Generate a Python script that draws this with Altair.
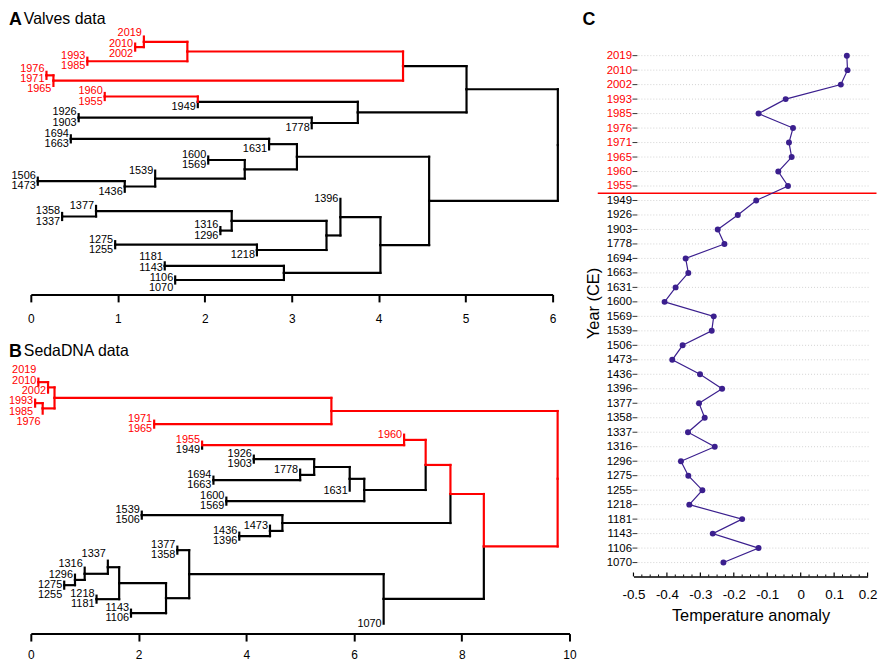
import altair as alt
import pandas as pd

FONT = "Liberation Sans"
RED = "#ff0000"
BLACK = "#000000"
PURPLE = "#3b1f8e"

# ---------------- data ----------------
years = [2019, 2010, 2002, 1993, 1985, 1976, 1971, 1965, 1960, 1955, 1949, 1926,
         1903, 1778, 1694, 1663, 1631, 1600, 1569, 1539, 1506, 1473, 1436, 1396,
         1377, 1358, 1337, 1316, 1296, 1275, 1255, 1218, 1181, 1143, 1106, 1070]
anomaly = [0.138, 0.14, 0.12, -0.045, -0.126, -0.023, -0.035, -0.027, -0.067, -0.038,
           -0.133, -0.188, -0.248, -0.228, -0.344, -0.336, -0.374, -0.407, -0.26,
           -0.266, -0.353, -0.384, -0.301, -0.235, -0.304, -0.287, -0.337, -0.257,
           -0.358, -0.336, -0.294, -0.333, -0.175, -0.263, -0.126, -0.231]
red_from_year = 1955

# Valves dendrogram (merge list: left child, right child, height)
valves_left = [2010, 2019, 1993, "v2", 1976, "v5", "v4", 1960, "v8", 1926, "v10", "v9",
               "v7", 1694, "v14", 1600, 1506, "v17", 1539, "v16", "v15", 1358, 1377,
               1316, "v23", 1275, "v26", "v25", 1396, 1181, 1106, "v30", "v29", "v21", "v13"]
valves_right = [2002, "v1", 1985, "v3", 1971, 1965, "v6", 1955, 1949, 1903, 1778, "v11",
                "v12", 1663, 1631, 1569, 1473, 1436, "v18", "v19", "v20", 1337, "v22",
                1296, "v24", 1255, 1218, "v27", "v28", 1143, 1070, "v31", "v32", "v33", "v34"]
valves_height = [1.20, 1.30, 0.65, 1.80, 0.18, 0.26, 4.28, 0.85, 1.92, 0.55, 3.23, 3.76,
                 5.01, 0.46, 2.74, 2.04, 0.08, 1.08, 1.43, 2.46, 3.06, 0.36, 0.75, 2.18,
                 2.31, 0.97, 2.60, 3.40, 3.56, 1.54, 1.66, 2.91, 4.02, 4.58, 6.06]
valves_red = ["v1", "v2", "v3", "v4", "v5", "v6", "v8"]

# SedaDNA dendrogram
seda_left = [2019, "s1", 1993, "s3", "s2", 1971, "s5", 1955, 1960, 1694, 1778, 1926,
             "s12", "s13", 1600, "s14", "s9", 1539, 1436, 1473, "s18", "s17", 1275, 1296,
             1316, 1337, 1218, "s26", 1143, "s28", 1377, "s31", "s32", "s22", "s7"]
seda_right = [2010, 2002, 1985, 1976, "s4", 1965, "s6", 1949, "s8", 1663, "s10", 1903,
              "s11", 1631, 1569, "s15", "s16", 1506, 1396, "s19", "s20", "s21", 1255, "s23",
              "s24", "s25", 1181, "s27", 1106, "s29", 1358, "s30", 1070, "s33", "s34"]
seda_height = [0.14, 0.32, 0.08, 0.22, 0.44, 2.29, 5.58, 3.18, 6.93, 3.39, 5.00, 4.14,
               5.26, 5.92, 3.63, 6.19, 7.33, 2.06, 3.87, 4.44, 4.67, 7.79, 0.62, 0.82,
               1.00, 1.43, 1.22, 1.64, 1.86, 2.51, 2.72, 2.94, 6.55, 8.41, 9.78]
seda_red = ["s1", "s2", "s3", "s4", "s5", "s6", "s7", "s8", "s9", "s17", "s22", "s34"]

# ---------------- layout (pixels) ----------------
A_W, B_W, C_W = 526, 543, 236
A_YMIN, A_YMAX = -1.0, 36.55
B_YMIN, B_YMAX = -1.5, 36.42
A_UNIT, B_UNIT = 7.114, 7.057
A_H = (A_YMAX - A_YMIN) * A_UNIT
B_H = (B_YMAX - B_YMIN) * B_UNIT
C_YMIN, C_YMAX = -1.808, 35.96
C_H = (C_YMAX - C_YMIN) * 14.6


def dendro(prefix, left, right, heights, red_nodes, ppx, ppy):
    names = [f"{prefix}{i + 1}" for i in range(len(left))]
    H = dict(zip(names, heights))
    kids = {n: (l, r) for n, l, r in zip(names, left, right)}
    order = []

    def walk(n):
        if n in kids:
            walk(kids[n][0])
            walk(kids[n][1])
        else:
            order.append(n)

    walk(names[-1])
    pos = {leaf: i for i, leaf in enumerate(order)}

    def yof(n):
        if n in kids:
            return (yof(kids[n][0]) + yof(kids[n][1])) / 2
        return pos[n]

    segs, leaf_x = [], {}
    for n in names:
        px, py = H[n], yof(n)
        for c in kids[n]:
            cy = yof(c)
            is_red = (c in red_nodes) or (c not in kids and c >= red_from_year)
            col = RED if is_red else BLACK
            segs.append(dict(x=px, x2=px, y=py, y2=cy, col=col, z=int(is_red)))
            if c in kids:
                segs.append(dict(x=px, x2=H[c], y=cy, y2=cy, col=col, z=int(is_red)))
            else:
                leaf_x[c] = px
    seg_df = pd.DataFrame(segs).sort_values("z", kind="stable")

    xs = [leaf_x[l] for l in order]
    ys = [float(pos[l]) for l in order]
    gap = 10.4 / ppy
    n = len(ys)
    for _ in range(800):
        moved = False
        for i in range(n):
            for j in range(i + 1, min(n, i + 5)):
                if abs(xs[i] - xs[j]) * ppx < 26:
                    d = gap - (ys[j] - ys[i])
                    if d > 1e-4:
                        ys[i] -= d / 2
                        ys[j] += d / 2
                        moved = True
        if not moved:
            break
    lab_df = pd.DataFrame(dict(x=xs, y=ys, label=[str(l) for l in order],
                               col=[RED if l >= red_from_year else BLACK for l in order]))
    return seg_df, lab_df


def dendro_panel(seg_df, lab_df, xmax, xvalues, width, ymin, ymax, height, letter, title,
                 ty, lpad):
    xs = alt.Scale(domain=[0, xmax], nice=False, zero=False)
    ys = alt.Scale(domain=[ymin, ymax], reverse=True, nice=False, zero=False)
    xaxis = alt.Axis(values=xvalues, format="d", title=None, grid=False, tickSize=7.5,
                     tickWidth=2, tickColor=BLACK, domainColor=BLACK, domainWidth=2,
                     labelFontSize=12, labelColor=BLACK, labelPadding=lpad, labelFont=FONT,
                     labelFlush=False, labelOverlap=False)
    segs = alt.Chart(seg_df).mark_rule(strokeWidth=2.2, strokeCap="square").encode(
        x=alt.X("x:Q", scale=xs, axis=xaxis), x2="x2:Q",
        y=alt.Y("y:Q", scale=ys, axis=None), y2="y2:Q",
        color=alt.Color("col:N", scale=None))
    labs = alt.Chart(lab_df).mark_text(align="right", baseline="middle", dx=-2,
                                       fontSize=11, font=FONT).encode(
        x=alt.X("x:Q", scale=xs, axis=xaxis), y=alt.Y("y:Q", scale=ys, axis=None),
        text="label:N", color=alt.Color("col:N", scale=None))
    t1 = alt.Chart(pd.DataFrame({"t": [letter]})).mark_text(
        align="left", baseline="top", fontSize=18, fontWeight="bold", font=FONT,
        color=BLACK).encode(x=alt.value(-22), y=alt.value(ty), text="t:N")
    t2 = alt.Chart(pd.DataFrame({"t": [title]})).mark_text(
        align="left", baseline="top", fontSize=16, font=FONT, color=BLACK).encode(
        x=alt.value(-7), y=alt.value(ty), text="t:N")
    return alt.layer(segs, labs, t1, t2).properties(width=width, height=height)


a_seg, a_lab = dendro("v", valves_left, valves_right, valves_height, valves_red,
                      A_W / 6.0, A_UNIT)
b_seg, b_lab = dendro("s", seda_left, seda_right, seda_height, seda_red,
                      B_W / 10.0, B_UNIT)

chartA = dendro_panel(a_seg, a_lab, 6, [0, 1, 2, 3, 4, 5, 6], A_W, A_YMIN, A_YMAX, A_H,
                      "A", "Valves data", -19, 12)
chartB = dendro_panel(b_seg, b_lab, 10, [0, 2, 4, 6, 8, 10], B_W, B_YMIN, B_YMAX, B_H,
                      "B", "SedaDNA data", -25.5, 9)

# ---------------- panel C ----------------
n_red = sum(1 for y in years if y >= red_from_year)
cdf = pd.DataFrame({"idx": list(range(len(years))), "year": years, "anom": anomaly})
major_ticks = [-0.5, -0.4, -0.3, -0.2, -0.1, 0.0, 0.1, 0.2]
minor_ticks = [-0.475, -0.45, -0.425, -0.375, -0.35, -0.325, -0.275, -0.25, -0.225,
               -0.175, -0.15, -0.125, -0.075, -0.05, -0.025, 0.025, 0.05, 0.075,
               0.125, 0.15, 0.175]

cys = alt.Scale(domain=[C_YMIN, C_YMAX], reverse=True, nice=False, zero=False)
cxs = alt.Scale(domain=[-0.5, 0.2], nice=False, zero=False)
label_arr = "[" + ",".join(f"'{y}'" for y in years) + "]"
yaxis = alt.Axis(values=list(range(len(years))), labelExpr=label_arr + "[datum.value]",
                 labelColor={"condition": {"test": f"datum.value < {n_red}", "value": RED},
                             "value": BLACK},
                 labelFontSize=11.5, labelFont=FONT, labelPadding=2, ticks=False, tickSize=0,
                 domain=False, grid=False, labelOverlap=False, labelFlush=False,
                 labelSeparation=0, labelBound=False,
                 title="Year (CE)", titleFontSize=16.5, titleFontWeight="normal",
                 titleFont=FONT, titleColor=BLACK, titlePadding=5)
xaxis = alt.Axis(values=major_ticks, labelExpr="toString(datum.value)", labelFontSize=13.5,
                 labelFont=FONT, labelColor=BLACK, labelPadding=11, ticks=False, tickSize=0,
                 domain=True, domainColor=BLACK, domainWidth=1.5, grid=False,
                 labelOverlap=False, labelFlush=False, labelSeparation=0, labelBound=False,
                 title="Temperature anomaly",
                 titleFontSize=16.5, titleFontWeight="normal", titleFont=FONT,
                 titleColor=BLACK, titlePadding=6.5)

grid = alt.Chart(cdf).mark_rule(color="#c8c8c8", strokeWidth=0.8, strokeDash=[1, 2]).encode(
    y=alt.Y("idx:Q", scale=cys, axis=yaxis), x=alt.value(5), x2=alt.value(C_W + 2))
yticks = alt.Chart(cdf).mark_rule(color="#333333", strokeWidth=1).encode(
    y=alt.Y("idx:Q", scale=cys, axis=yaxis), x=alt.value(-1), x2=alt.value(4))
cut = alt.Chart(pd.DataFrame({"idx": [n_red - 0.5]})).mark_rule(
    color=RED, strokeWidth=1.3).encode(
    y=alt.Y("idx:Q", scale=cys, axis=yaxis), x=alt.value(-36), x2=alt.value(C_W + 9))
line = alt.Chart(cdf).mark_line(color=PURPLE, strokeWidth=1.2).encode(
    x=alt.X("anom:Q", scale=cxs, axis=xaxis), y=alt.Y("idx:Q", scale=cys, axis=yaxis),
    order="idx:Q")
pts = alt.Chart(cdf).mark_circle(size=36, color=PURPLE, opacity=1).encode(
    x=alt.X("anom:Q", scale=cxs, axis=xaxis), y=alt.Y("idx:Q", scale=cys, axis=yaxis))
tmaj = alt.Chart(pd.DataFrame({"anom": major_ticks})).mark_rule(
    color=BLACK, strokeWidth=1.2).encode(
    x=alt.X("anom:Q", scale=cxs, axis=xaxis), y=alt.value(C_H), y2=alt.value(C_H - 4))
tmin = alt.Chart(pd.DataFrame({"anom": minor_ticks})).mark_rule(
    color=BLACK, strokeWidth=1).encode(
    x=alt.X("anom:Q", scale=cxs, axis=xaxis), y=alt.value(C_H), y2=alt.value(C_H - 2))
ctitle = alt.Chart(pd.DataFrame({"t": ["C"]})).mark_text(
    align="left", baseline="top", fontSize=18, fontWeight="bold", font=FONT,
    color=BLACK).encode(x=alt.value(-51.5), y=alt.value(-19), text="t:N")

chartC = alt.layer(grid, yticks, cut, line, pts, tmaj, tmin, ctitle).properties(
    width=C_W, height=C_H)

left = alt.vconcat(chartA, chartB, spacing=73.4, bounds="flush")
chart = alt.hconcat(left, chartC, spacing=5.5).properties(
    padding=0).configure(font=FONT).configure_view(stroke=None)

chart.save("out.html", embed_options={"renderer": "svg", "actions": False})
